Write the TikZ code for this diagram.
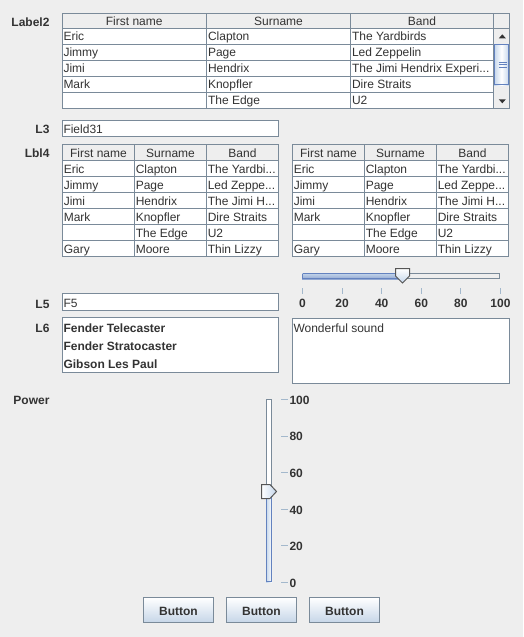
\documentclass[tikz,border=0pt]{standalone}
\usepackage{fontspec}
\setmainfont{Liberation Sans}
\definecolor{bg}{HTML}{EEEEEE}
\definecolor{grid}{HTML}{7A8A99}
\definecolor{txt}{HTML}{333333}
\definecolor{tickc}{HTML}{A3B8CC}
\definecolor{blu}{HTML}{6382BF}
\definecolor{lblu}{HTML}{C4D6EB}
\definecolor{btnb}{HTML}{C6D6E8}
\definecolor{thumbb}{HTML}{555555}
\newcommand\tdots{.{}.{}.}
\tikzset{
  every node/.style={inner sep=0pt, outer sep=0pt, text=txt},
  cell/.style={anchor=base west, font=\fontsize{12}{14}\selectfont},
  hcell/.style={anchor=base, font=\fontsize{12}{14}\selectfont},
  lbl/.style={anchor=base east, font=\fontsize{12}{14}\selectfont\bfseries},
  blbl/.style={anchor=base west, font=\fontsize{12}{14}\selectfont\bfseries},
  clbl/.style={anchor=base, font=\fontsize{12}{14}\selectfont\bfseries},
  gl/.style={draw=grid, line width=1pt},
  fieldbox/.style={draw=grid, fill=white, line width=1pt},
  tickline/.style={draw=tickc, line width=1pt},
  btnbox/.style={draw=grid, line width=1pt, top color=white, bottom color=btnb},
}
\begin{document}
\begin{tikzpicture}[x=1pt,y=-1pt]
\useasboundingbox (0,0) rectangle (523,637);
\fill[bg] (0,0) rectangle (523,637);

% ---------- Label2 table ----------
\node[lbl] (label2) at (49.5,26) {Label2};
\fill[white] (62,29) rectangle (493,109);
\fill[bg] (62,13) rectangle (509,29);
\fill[bg] (493,29) rectangle (509,109);
\foreach \x in {206.5,350.5,493.5} \draw[gl] (\x,13) -- (\x,109);
\foreach \y in {28.5,44.5,60.5,76.5,92.5} \draw[gl] (62,\y) -- (493,\y);
\draw[gl] (493.5,28.5) -- (509,28.5);
\draw[gl] (62.5,13.5) rectangle (509.5,108.5);
\node[hcell] (th1) at (134.25,25.7) {First name};
\node[hcell] (th2) at (278.5,25.7) {Surname};
\node[hcell] (th3) at (422,25.7) {Band};
\foreach \a/\b/\c [count=\i] in {Eric/Clapton/The Yardbirds, Jimmy/Page/Led Zeppelin, Jimi/Hendrix/The Jimi Hendrix Experi\tdots, Mark/Knopfler/Dire Straits, {}/The Edge/U2}{
  \node[cell] (ta\i) at (63.5,{24.7+16*\i}) {\a};
  \node[cell] (tb\i) at (208,{24.7+16*\i}) {\b};
  \node[cell] (tc\i) at (352,{24.7+16*\i}) {\c};
}
% scrollbar
\fill[txt] (498.8,38.3) -- (505.8,38.3) -- (502.3,34.3) -- cycle;
\shade[left color=lblu, right color=lblu, middle color=white] (494,44) rectangle (509,85);
\draw[draw=blu, line width=1pt] (494.5,44.5) rectangle (508.5,84.5);
\foreach \y in {62,64.5,67} \draw[draw=blu, line width=0.8pt] (498.5,\y) -- (506.5,\y);
\fill[txt] (498.8,99.3) -- (505.8,99.3) -- (502.3,103.3) -- cycle;

% ---------- L3 ----------
\node[lbl] (l3) at (49.5,133.5) {L3};
\draw[fieldbox] (62.5,120.5) rectangle (278.5,136.5);
\node[cell] (f31) at (63.5,133.3) {Field31};

% ---------- Lbl4 tables ----------
\node[lbl] (lbl4) at (49.5,157.5) {Lbl4};
\foreach \ox/\nm in {0/L, 230/R}{
  \begin{scope}[xshift=\ox]
  \fill[bg] (62,144) rectangle (278.5,160);
  \fill[white] (62,160) rectangle (278.5,256.5);
  \foreach \x in {134.5,206.5} \draw[gl] (\x,144) -- (\x,257);
  \foreach \y in {160.5,176.5,192.5,208.5,224.5,240.5} \draw[gl] (62,\y) -- (278.5,\y);
  \draw[gl] (62.5,144.5) rectangle (278.5,256.5);
  \node[hcell] (h1\nm) at (98.5,157.7) {First name};
  \node[hcell] (h2\nm) at (170.5,157.7) {Surname};
  \node[hcell] (h3\nm) at (242.5,157.7) {Band};
  \foreach \a/\b/\c [count=\i] in {Eric/Clapton/The Yardbi\tdots, Jimmy/Page/Led Zeppe\tdots, Jimi/Hendrix/The Jimi H\tdots, Mark/Knopfler/Dire Straits, {}/The Edge/U2, Gary/Moore/Thin Lizzy}{
    \node[cell] (a\nm\i) at (63.8,{157.3+16*\i}) {\a};
    \node[cell] (b\nm\i) at (135.8,{157.3+16*\i}) {\b};
    \node[cell] (c\nm\i) at (207.8,{157.3+16*\i}) {\c};
  }
  \end{scope}
}

% ---------- horizontal slider ----------
\draw[draw=grid, fill=bg, line width=1pt] (402,273.5) rectangle (499.5,278.5);
\shade[top color=lblu, bottom color=blu!70] (302,273) rectangle (402,279);
\draw[draw=blu, line width=1pt] (302.5,273.5) -- (402,273.5) (302.5,273.5) -- (302.5,278.5) -- (402,278.5);
\draw[draw=thumbb, line width=1pt, top color=white, bottom color=lblu]
  (395.5,268.5) -- (409.5,268.5) -- (409.5,276) -- (402.5,283) -- (395.5,276) -- cycle;
\foreach \v [count=\i from 0] in {0,20,40,60,80,100}{
  \draw[tickline] ({302.5+39.6*\i},288) -- ({302.5+39.6*\i},293.5);
  \node[clbl] (hs\i) at ({302.5+39.6*\i},307.3) {\v};
}

% ---------- L5 ----------
\node[lbl] (l5) at (49.5,308) {L5};
\draw[fieldbox] (62.5,293.5) rectangle (278.5,310.5);
\node[cell] (f5) at (63.5,307.7) {F5};

% ---------- L6 ----------
\node[lbl] (l6) at (49.5,332) {L6};
\draw[fieldbox] (62.5,317.5) rectangle (278.5,372.5);
\node[blbl] (g1) at (63.5,332) {Fender Telecaster};
\node[blbl] (g2) at (63.5,350.3) {Fender Stratocaster};
\node[blbl] (g3) at (63.5,368.7) {Gibson Les Paul};
\draw[fieldbox] (292.5,318.5) rectangle (509.5,383.5);
\node[cell] (ws) at (293.5,332) {Wonderful sound};

% ---------- Power vertical slider ----------
\node[lbl] (power) at (49.5,404.5) {Power};
\draw[draw=grid, fill=white, line width=1pt] (266.5,399.5) rectangle (271.5,491);
\shade[left color=lblu, right color=white] (266,491) rectangle (272,582);
\draw[draw=blu, line width=1pt] (266.5,491) -- (266.5,581.5) -- (271.5,581.5) -- (271.5,491);
\draw[draw=thumbb, line width=1pt, left color=white, right color=lblu]
  (261.5,484.5) -- (270,484.5) -- (276.5,491.5) -- (270,498.5) -- (261.5,498.5) -- cycle;
\foreach \v [count=\i from 0] in {100,80,60,40,20,0}{
  \draw[tickline] (281,{399.5+36.6*\i}) -- (288,{399.5+36.6*\i});
  \node[blbl] (vs\i) at (289.5,{404.2+36.6*\i}) {\v};
}

% ---------- buttons ----------
\foreach \x [count=\i] in {143.5,226.5,309.5}{
  \draw[btnbox] (\x,597.5) rectangle ({\x+70},622.5);
  \node[clbl] (btn\i) at ({\x+35},615) {Button};
}
\end{tikzpicture}
\end{document}
